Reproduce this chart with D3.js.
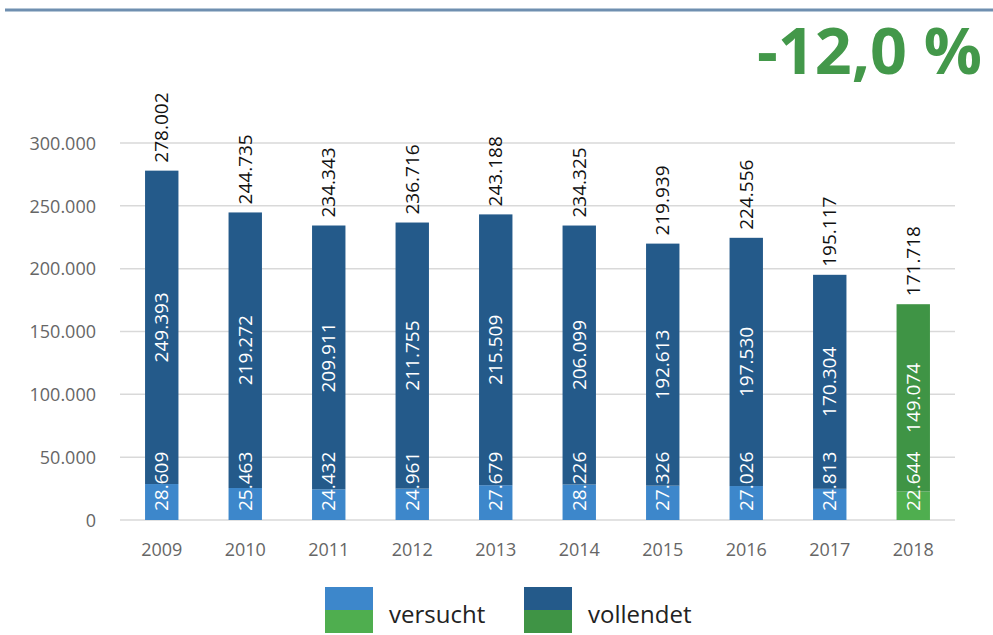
<!doctype html>
<html>
<head>
<meta charset="utf-8">
<script src="https://d3js.org/d3.v7.min.js"></script>
<style>
  body { margin: 0; background: #fff; }
  text { font-family: "Open Sans", "DejaVu Sans", sans-serif; }
</style>
</head>
<body>
<svg width="993" height="635"></svg>
<script>
// data
var years = ["2009", "2010", "2011", "2012", "2013", "2014", "2015", "2016", "2017", "2018"];
var versucht = [28609, 25463, 24432, 24961, 27679, 28226, 27326, 27026, 24813, 22644];
var vollendet = [249393, 219272, 209911, 211755, 215509, 206099, 192613, 197530, 170304, 149074];
var totals = [278002, 244735, 234343, 236716, 243188, 234325, 219939, 224556, 195117, 171718];
var yTicks = [0, 50000, 100000, 150000, 200000, 250000, 300000];
var changeLabel = "-12,0 %";

var svg = d3.select("svg"),
    width = +svg.attr("width"),
    height = +svg.attr("height");

var fmt = function(v) { return d3.format(",")(v).replace(/,/g, "."); };

// colours: blue for past years, green for 2018
var colLight = function(i) { return i === years.length - 1 ? "#4fae4f" : "#3d87cb"; };
var colDark = function(i) { return i === years.length - 1 ? "#3f9445" : "#245a8a"; };

var x = d3.scaleBand().domain(years).range([120, 955]).paddingInner(0.6).paddingOuter(0.3);
var y = d3.scaleLinear().domain([0, 300000]).range([520, 143]);

// top rule
svg.append("line")
    .attr("x1", 5).attr("x2", width).attr("y1", 10).attr("y2", 10)
    .attr("stroke", "#6f8fb0").attr("stroke-width", 3);

// gridlines
svg.append("g").selectAll("line").data(yTicks).join("line")
    .attr("x1", 120).attr("x2", 955)
    .attr("y1", function(d) { return y(d); }).attr("y2", function(d) { return y(d); })
    .attr("stroke", "#d9d9d9").attr("stroke-width", 1.5);

// y axis labels
var yAxis = svg.append("g")
    .attr("transform", "translate(99,0)")
    .call(d3.axisLeft(y).tickValues(yTicks).tickSize(0).tickFormat(fmt));
yAxis.select(".domain").remove();
yAxis.selectAll("text")
    .attr("font-size", 18).attr("fill", "#666").attr("dy", "0.35em")
    .style("font-family", "'Open Sans', sans-serif");

// x axis labels
var xAxis = svg.append("g")
    .attr("transform", "translate(0,540)")
    .call(d3.axisBottom(x).tickSize(0));
xAxis.select(".domain").remove();
xAxis.selectAll("text")
    .attr("font-size", 18).attr("fill", "#666")
    .style("font-family", "'Open Sans', sans-serif");

var bars = svg.append("g").selectAll("g").data(years).join("g");

// versucht (bottom)
bars.append("rect")
    .attr("x", function(d) { return x(d); })
    .attr("width", x.bandwidth())
    .attr("y", function(d, i) { return y(versucht[i]); })
    .attr("height", function(d, i) { return y(0) - y(versucht[i]); })
    .attr("fill", function(d, i) { return colLight(i); });

// vollendet (top)
bars.append("rect")
    .attr("x", function(d) { return x(d); })
    .attr("width", x.bandwidth())
    .attr("y", function(d, i) { return y(versucht[i] + vollendet[i]); })
    .attr("height", function(d, i) { return y(versucht[i]) - y(versucht[i] + vollendet[i]); })
    .attr("fill", function(d, i) { return colDark(i); });

function vText(sel, xf, yf, anchor, color, txt) {
  sel.append("text")
    .attr("transform", function(d, i) { return "translate(" + xf(d, i) + "," + yf(d, i) + ") rotate(-90)"; })
    .attr("text-anchor", anchor)
    .attr("dy", "0.35em")
    .attr("font-size", 19)
    .attr("fill", color)
    .text(txt);
}

var cx = function(d) { return x(d) + x.bandwidth() / 2; };

// versucht labels
vText(bars, cx, function(d, i) { return y(0) - 9; }, "start", "#fff",
  function(d, i) { return fmt(versucht[i]); });
// vollendet labels
vText(bars, cx, function(d, i) { return (y(versucht[i]) + y(versucht[i] + vollendet[i])) / 2; }, "middle", "#fff",
  function(d, i) { return fmt(vollendet[i]); });
// totals
vText(bars, cx, function(d, i) { return y(totals[i]) - 8; }, "start", "#111",
  function(d, i) { return fmt(totals[i]); });

// big change label
svg.append("text")
    .attr("x", 982).attr("y", 74)
    .attr("text-anchor", "end")
    .attr("font-size", 64).attr("font-weight", "bold")
    .attr("fill", "#43984a")
    .attr("textLength", 225).attr("lengthAdjust", "spacingAndGlyphs")
    .text(changeLabel);

// legend
var legend = [
  {name: "versucht", top: "#3d87cb", bottom: "#4fae4f", x: 325},
  {name: "vollendet", top: "#245a8a", bottom: "#3f9445", x: 524}
];
var lg = svg.append("g").selectAll("g").data(legend).join("g")
    .attr("transform", function(d) { return "translate(" + d.x + ",587)"; });
lg.append("rect").attr("width", 48).attr("height", 23).attr("fill", function(d) { return d.top; });
lg.append("rect").attr("y", 23).attr("width", 48).attr("height", 23).attr("fill", function(d) { return d.bottom; });
lg.append("text")
    .attr("x", 64).attr("y", 36)
    .attr("font-size", 24).attr("fill", "#222")
    .text(function(d) { return d.name; });
</script>
</body>
</html>
